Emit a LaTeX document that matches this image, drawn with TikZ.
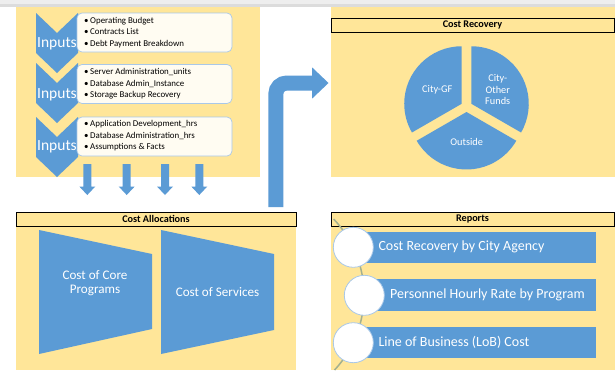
\documentclass[tikz,border=0pt]{standalone}
\usepackage{fontspec}
\setmainfont{Carlito}
\definecolor{obl}{HTML}{5B9BD5}
\definecolor{yel}{HTML}{FFE699}
\definecolor{cream}{HTML}{FFFCF2}
\definecolor{bbord}{HTML}{A9C8E8}
\definecolor{arcc}{HTML}{A3B08F}
\definecolor{topgrey}{HTML}{EEEEEE}
\definecolor{topline}{HTML}{DCDCDC}
\begin{document}
\begin{tikzpicture}[x=1pt,y=-1pt,
  hdr/.style={draw=black, line width=0.8pt, fill=yel, inner sep=0pt, font=\bfseries\fontsize{10.2}{11}\selectfont},
  tbox/.style={draw=bbord, line width=0.7pt, fill=cream, rounded corners=5pt, minimum width=155pt, minimum height=39pt, inner sep=0pt},
  blist/.style={align=left, inner sep=0pt, font=\fontsize{8.9}{11.5}\selectfont, text=black},
  inp/.style={text=white, inner sep=0pt, font=\fontsize{15.5}{18}\selectfont},
  wtext/.style={text=white, inner sep=0pt, align=center, font=\fontsize{13.1}{14.5}\selectfont},
  pietext/.style={text=white, inner sep=0pt, align=center, font=\fontsize{10.3}{11.2}\selectfont},
  rtext/.style={text=white, inner sep=0pt, anchor=west, font=\fontsize{14}{16}\selectfont},
  rcirc/.style={circle, draw=bbord, line width=0.8pt, fill=white, minimum size=40pt, inner sep=0pt}
]
\useasboundingbox (0,0) rectangle (615,372);
\fill[white] (0,0) rectangle (615,372);
\fill[topgrey] (0,0) rectangle (615,6.5);
\fill[topline] (0,3.5) rectangle (615,6.5);

% panels
\fill[yel] (16,7) rectangle (260,177);
\fill[yel] (331,7) rectangle (615,177);
\fill[yel] (16,226) rectangle (296,370);
\fill[yel] (331,226) rectangle (615,370);

% chevrons
\foreach \t in {13,63,117}{
  \fill[obl] (36,\t) -- (57,\t+20) -- (78,\t) -- (78,\t+40) -- (57,\t+60) -- (36,\t+40) -- cycle;
}
\node[tbox] (b1) at (154.5,32.5) {};
\node[tbox] (b2) at (154.5,84) {};
\node[tbox] (b3) at (154.5,136.5) {};
\newcommand{\bl}{\makebox[6pt][l]{\textbullet}}
\node[blist, anchor=west] (l1) at (84,32.5) {\bl Operating Budget\\\bl Contracts List\\\bl Debt Payment Breakdown};
\node[blist, anchor=west] (l2) at (84,84) {\bl Server Administration\_units\\\bl Database Admin\_Instance\\\bl Storage Backup Recovery};
\node[blist, anchor=west] (l3) at (84,136) {\bl Application Development\_hrs\\\bl Database Administration\_hrs\\\bl Assumptions \& Facts};
\node[inp] (i1) at (57,43.5) {Inputs};
\node[inp] (i2) at (57,95) {Inputs};
\node[inp] (i3) at (57,146.7) {Inputs};

% down arrows
\foreach \c in {87.3,126.7,165,199.3}{
  \fill[obl] (\c-4,164) -- (\c+4,164) -- (\c+4,186.5) -- (\c+8,186.5) -- (\c,195) -- (\c-8,186.5) -- (\c-4,186.5) -- cycle;
}

% bent arrow
\draw[obl, line width=15pt, rounded corners=11pt] (275.8,207) -- (275.8,83) -- (312.5,83);
\fill[obl] (312,67.3) -- (328.5,83) -- (312,98.7) -- cycle;

% headers
\node[hdr, minimum width=280pt, minimum height=14pt] (hca) at (156,219) {Cost Allocations};
\node[hdr, minimum width=283pt, minimum height=14pt] (hcr) at (472.5,25.3) {Cost Recovery};
\node[hdr, minimum width=283pt, minimum height=14pt] (hrp) at (472.5,219) {Reports};

% trapezoids
\fill[obl] (39,230) -- (152,254) -- (152,329) -- (39,354) -- cycle;
\fill[obl] (161,230) -- (274,254) -- (274,330) -- (161,354) -- cycle;
\node[wtext] (t1) at (95,283) {Cost of Core\\Programs};
\node[wtext] (t2) at (217.5,292) {Cost of Services};

% pie
\begin{scope}[shift={(466.5,106.5)}, y=1pt]
  \begin{scope}[shift={(150:5.5)}]
    \fill[obl] (0,0) -- (90:57.5) arc[start angle=90, end angle=210, radius=57.5] -- cycle;
  \end{scope}
  \begin{scope}[shift={(30:5.5)}]
    \fill[obl] (0,0) -- (-30:57.5) arc[start angle=-30, end angle=90, radius=57.5] -- cycle;
  \end{scope}
  \begin{scope}[shift={(270:5.5)}]
    \fill[obl] (0,0) -- (210:57.5) arc[start angle=210, end angle=330, radius=57.5] -- cycle;
  \end{scope}
\end{scope}
\node[pietext] (p1) at (437.3,90) {City-GF};
\node[pietext] (p2) at (497.7,89.5) {City-\\Other\\Funds};
\node[pietext] (p3) at (466.7,142.3) {Outside};

% reports
\fill[obl] (355,231.7) rectangle (596,262.7);
\fill[obl] (365,279.3) rectangle (596,310.7);
\fill[obl] (355,326.7) rectangle (596,358.3);
\draw[arcc, line width=1.5pt] (253.8,295) ++(-43.6:110.2) arc[start angle=-43.6, end angle=42.9, radius=110.2];
\node[rcirc] (c1) at (353.3,247.3) {};
\node[rcirc] (c2) at (364.3,295.3) {};
\node[rcirc] (c3) at (353.3,342.7) {};
\node[rtext] (r1) at (378.3,247.3) {Cost Recovery by City Agency};
\node[rtext] (r2) at (390,295) {Personnel Hourly Rate by Program};
\node[rtext] (r3) at (378.3,342.5) {Line of Business (LoB) Cost};
\end{tikzpicture}
\end{document}
